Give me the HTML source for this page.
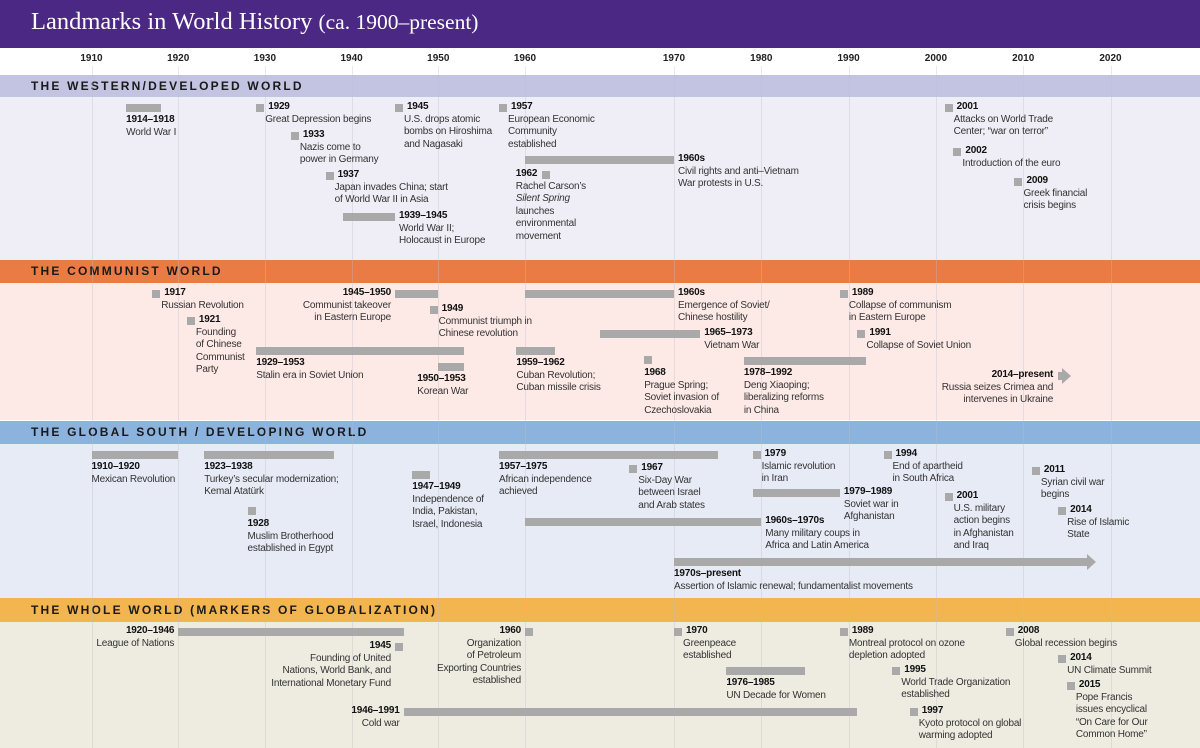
<!DOCTYPE html>
<html><head><meta charset="utf-8">
<style>
body{margin:0;width:1200px;height:748px;overflow:hidden;font-family:"Liberation Sans",sans-serif;background:#fff;position:relative}
#c{position:absolute;left:0;top:0;width:1200px;height:748px}
.abs{position:absolute}
.t{position:absolute;font-size:10px;line-height:12.5px;color:#333;white-space:nowrap;letter-spacing:-0.2px}
.t b{color:#111}
.sh{position:absolute;left:0;width:1200px;font-weight:bold;font-size:12px;letter-spacing:2.2px;color:#1a1a1a;box-sizing:border-box;padding-left:31px}
.tick{position:absolute;top:53px;font-weight:bold;font-size:10px;color:#222;width:40px;margin-left:-20px;text-align:center}
</style></head>
<body>
<div id="c">
<div class="abs" style="left:0;top:0;width:1200px;height:48px;background:#4b2884"></div>
<div class="abs" style="left:31px;top:8px;color:#fff;font-family:'Liberation Serif',serif;font-size:24.5px;white-space:nowrap">Landmarks in World History <span style="font-size:21.5px">(ca. 1900–present)</span></div>

<div class="abs" style="left:0;top:97px;width:1200px;height:163px;background:#efeef6"></div>
<div class="sh" style="top:75px;height:22px;line-height:22px;background:#c3c3e2">THE WESTERN/DEVELOPED WORLD</div>
<div class="abs" style="left:0;top:283px;width:1200px;height:137px;background:#fdeae6"></div>
<div class="sh" style="top:260px;height:23px;line-height:23px;background:#ea7b45">THE COMMUNIST WORLD</div>
<div class="abs" style="left:0;top:444px;width:1200px;height:154px;background:#e7ebf5"></div>
<div class="sh" style="top:421px;height:23px;line-height:23px;background:#8cb2de">THE GLOBAL SOUTH / DEVELOPING WORLD</div>
<div class="abs" style="left:0;top:622px;width:1200px;height:126px;background:#eeebe1"></div>
<div class="sh" style="top:598px;height:24px;line-height:24px;background:#f3b54f">THE WHOLE WORLD (MARKERS OF GLOBALIZATION)</div>
</div>
<script>
const tickYears=[1910,1920,1930,1940,1950,1960,1970,1980,1990,2000,2010,2020];
// events: [start, end (null = point)]
const evStart=[1914,1929,1933,1937,1939,1945,1957,1960,1962,2001,2002,2009,
1917,1921,1929,1945,1949,1950,1959,1960,1965,1968,1978,1989,1991,2014,
1910,1923,1928,1947,1957,1967,1979,1979,1960,1994,2001,2011,2014,1970,
1920,1945,1946,1960,1970,1976,1989,1995,1997,2008,2014,2015];
const evEnd=[1918,null,null,null,1945,null,null,1970,null,null,null,null,
null,null,1953,1950,null,1953,1962,1970,1973,null,1992,null,null,2018,
1920,1938,null,1949,1975,null,null,1989,1980,null,null,null,null,2018,
1946,null,1991,null,null,1985,null,null,null,null,null,null];
const evTitle=["1914–1918","1929","1933","1937","1939–1945","1945","1957","1960s","1962","2001","2002","2009",
"1917","1921","1929–1953","1945–1950","1949","1950–1953","1959–1962","1960s","1965–1973","1968","1978–1992","1989","1991","2014–present",
"1910–1920","1923–1938","1928","1947–1949","1957–1975","1967","1979","1979–1989","1960s–1970s","1994","2001","2011","2014","1970s–present",
"1920–1946","1945","1946–1991","1960","1970","1976–1985","1989","1995","1997","2008","2014","2015"];
const evDesc=[["World War I"],["Great Depression begins"],["Nazis come to","power in Germany"],["Japan invades China; start","of World War II in Asia"],["World War II;","Holocaust in Europe"],["U.S. drops atomic","bombs on Hiroshima","and Nagasaki"],["European Economic","Community","established"],["Civil rights and anti–Vietnam","War protests in U.S."],["Rachel Carson’s","<i>Silent Spring</i>","launches","environmental","movement"],["Attacks on World Trade","Center; “war on terror”"],["Introduction of the euro"],["Greek financial","crisis begins"],
["Russian Revolution"],["Founding","of Chinese","Communist","Party"],["Stalin era in Soviet Union"],["Communist takeover","in Eastern Europe"],["Communist triumph in","Chinese revolution"],["Korean War"],["Cuban Revolution;","Cuban missile crisis"],["Emergence of Soviet/","Chinese hostility"],["Vietnam War"],["Prague Spring;","Soviet invasion of","Czechoslovakia"],["Deng Xiaoping;","liberalizing reforms","in China"],["Collapse of communism","in Eastern Europe"],["Collapse of Soviet Union"],["Russia seizes Crimea and","intervenes in Ukraine"],
["Mexican Revolution"],["Turkey’s secular modernization;","Kemal Atatürk"],["Muslim Brotherhood","established in Egypt"],["Independence of","India, Pakistan,","Israel, Indonesia"],["African independence","achieved"],["Six-Day War","between Israel","and Arab states"],["Islamic revolution","in Iran"],["Soviet war in","Afghanistan"],["Many military coups in","Africa and Latin America"],["End of apartheid","in South Africa"],["U.S. military","action begins","in Afghanistan","and Iraq"],["Syrian civil war","begins"],["Rise of Islamic","State"],["Assertion of Islamic renewal; fundamentalist movements"],
["League of Nations"],["Founding of United","Nations, World Bank, and","International Monetary Fund"],["Cold war"],["Organization","of Petroleum","Exporting Countries","established"],["Greenpeace","established"],["UN Decade for Women"],["Montreal protocol on ozone","depletion adopted"],["World Trade Organization","established"],["Kyoto protocol on global","warming adopted"],["Global recession begins"],["UN Climate Summit"],["Pope Francis","issues encyclical","“On Care for Our","Common Home”"]];
// layout (not data): row top y and label mode
const lay=[[104,'below'],[104,'pt'],[132,'pt'],[172,'pt'],[213,'after'],[104,'pt'],[104,'pt'],[156,'after'],[171,'ptl'],[104,'pt'],[148,'pt'],[178,'pt'],
[290,'pt'],[317,'pt'],[347,'below'],[290,'left'],[306,'pt'],[363,'below',-21],[347,'below'],[290,'after'],[330,'after'],[356,'below'],[357,'below'],[290,'pt'],[330,'pt'],[372,'arrowl'],
[451,'below'],[451,'below'],[507,'below'],[471,'below'],[451,'below'],[465,'pt'],[451,'pt'],[489,'after'],[518,'after'],[451,'pt'],[493,'pt'],[467,'pt'],[507,'pt'],[558,'arrowb'],
[628,'left'],[643,'left'],[708,'left'],[628,'left'],[628,'pt'],[667,'below'],[628,'pt'],[667,'pt'],[708,'pt'],[628,'pt'],[655,'pt'],[682,'pt']];

function xs(y){
  if(y<=1960) return 525-(1960-y)*8.67;
  if(y<=1970) return 525+(y-1960)*14.9;
  return 674+(y-1970)*8.73;
}
const C=document.getElementById('c');
function div(cls,css,html){const d=document.createElement('div');if(cls)d.className=cls;d.style.cssText=css;if(html!==undefined)d.innerHTML=html;C.appendChild(d);return d;}

tickYears.forEach(function(y){
  const g=div('abs','left:'+Math.round(xs(y))+'px;top:66px;width:1px;height:682px;background:rgba(190,190,205,0.35)');
  
  
  const t=div('tick','left:'+xs(y)+'px',String(y));
  
  
});

function textBlock(i,x,y,align){
  let h='<b>'+evTitle[i]+'</b><br>'+evDesc[i][0];
  for(let k=1;k<evDesc[i].length;k++) h+='<br>'+evDesc[i][k];
  const css=align==='right'?'right:'+(1200-x)+'px;top:'+y+'px;text-align:right':'left:'+x+'px;top:'+y+'px';
  const d=div('t',css,h);
  
  
  return d;
}

for(let i=0;i<evStart.length;i++){
  const s=evStart[i],e=evEnd[i],y=lay[i][0],mode=lay[i][1];
  const x0=xs(s);
  if(e===null){
    const sq=div('abs','left:'+x0+'px;top:'+y+'px;width:8px;height:8px;background:#a9a9a9');
    
    
    if(mode==='pt'){
      const d=textBlock(i,x0+9,y-3,'left');
      d.innerHTML=d.innerHTML.replace('<b>','<b style="margin-left:3px">');
    } else if(mode==='ptl'){
      sq.style.left=(x0-13)+'px';
      textBlock(i,x0-39,y-3,'left');
    } else if(mode==='left'){
      textBlock(i,x0-4,y-3,'right');
    } else if(mode==='below'){
      textBlock(i,x0,y+11,'left');
    }
  } else {
    const x1=xs(e);
    const isArrow=mode==='arrowl'||mode==='arrowb';
    const w=isArrow?(mode==='arrowl'?4:x1-x0-6):x1-x0;
    const b=div('abs','left:'+x0+'px;top:'+y+'px;width:'+w+'px;height:8px;background:#a9a9a9');
    
    
    if(isArrow){
      const a=div('abs','left:'+(x0+w)+'px;top:'+(y-4)+'px;width:0;height:0;border-top:8px solid transparent;border-bottom:8px solid transparent;border-left:9px solid #a9a9a9');
      
      
    }
    if(mode==='below') textBlock(i,x0+(lay[i][2]||0),y+10,'left');
    else if(mode==='after') textBlock(i,x1+4,y-3,'left');
    else if(mode==='left') textBlock(i,x0-4,y-3,'right');
    else if(mode==='arrowl') textBlock(i,x0-5,y-3,'right');
    else if(mode==='arrowb') textBlock(i,x0,y+10,'left');
  }
}
</script>
</body></html>
